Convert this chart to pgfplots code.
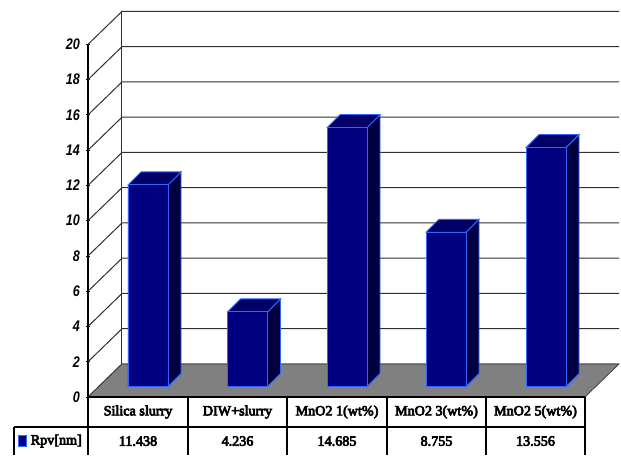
\documentclass[border=0pt]{standalone}
\usepackage{pgfplots}
\usepackage{fontspec}
\pgfplotsset{compat=1.18}
\setmainfont{Liberation Serif}
\newfontfamily\cellfont[FakeBold=5]{Liberation Serif}
\newfontfamily\tickfont[FakeStretch=0.82]{Liberation Sans}
\definecolor{barfront}{HTML}{000080}
\definecolor{barside}{HTML}{000040}
\definecolor{bartop}{HTML}{000066}
\definecolor{baredge}{HTML}{3366FF}
\definecolor{floorgray}{HTML}{808080}
\definecolor{wallline}{HTML}{303030}

\begin{document}
\begin{tikzpicture}
\useasboundingbox (-66pt,-43.5pt) rectangle (399.75pt,297.75pt);
% x runs in layout units (0.75pt each), y in Rpv[nm]
\begin{axis}[
  at={(0pt,0pt)}, anchor=south west,
  scale only axis, width=372.75pt, height=264.45pt,
  xmin=88, xmax=585, ymin=0, ymax=20,
  clip=false,
  axis x line=none,
  axis y line=left,
  y axis line style={-, black, line width=0.9pt},
  ytick={0,2,...,20},
  tick style={black, line width=0.7pt},
  major tick length=3.5pt,
  yticklabel style={font=\tickfont\bfseries\itshape\fontsize{11.5}{13}\selectfont, xshift=-0.8pt},
  /pgf/number format/assume math mode=true,
  barface/.style={draw=baredge, line width=0.7pt, yshift=7.8pt},
]
% back wall and its gridlines
\pgfplotsinvokeforeach{0,2,...,20}{
  \draw[wallline, line width=0.75pt] (axis cs:88,#1) -- ++(25.5pt,24.75pt) -- ++(372.75pt,0pt);
}
\draw[wallline, line width=0.75pt] (axis cs:122,1.872) -- (axis cs:122,21.872);

% floor
\addplot[fill=floorgray, draw=wallline, line width=0.5pt] coordinates
  {(88,0) (122,1.872) (619,1.872) (585,0)} -- cycle;

% side faces
\addplot[barface, fill=barside] coordinates {(168,0) (168,11.438) (181,12.175) (181,0.737)} -- cycle;
\addplot[barface, fill=barside] coordinates {(267.5,0) (267.5,4.236) (280.5,4.973) (280.5,0.737)} -- cycle;
\addplot[barface, fill=barside] coordinates {(367,0) (367,14.685) (380,15.422) (380,0.737)} -- cycle;
\addplot[barface, fill=barside] coordinates {(466,0) (466,8.755) (479,9.492) (479,0.737)} -- cycle;
\addplot[barface, fill=barside] coordinates {(566,0) (566,13.556) (579,14.293) (579,0.737)} -- cycle;
% top faces
\addplot[barface, fill=bartop] coordinates {(128,11.438) (168,11.438) (181,12.175) (141,12.175)} -- cycle;
\addplot[barface, fill=bartop] coordinates {(227.5,4.236) (267.5,4.236) (280.5,4.973) (240.5,4.973)} -- cycle;
\addplot[barface, fill=bartop] coordinates {(327,14.685) (367,14.685) (380,15.422) (340,15.422)} -- cycle;
\addplot[barface, fill=bartop] coordinates {(426,8.755) (466,8.755) (479,9.492) (439,9.492)} -- cycle;
\addplot[barface, fill=bartop] coordinates {(526,13.556) (566,13.556) (579,14.293) (539,14.293)} -- cycle;
% front faces
\addplot[ybar, bar width=30pt, barface, fill=barfront] coordinates
  {(148,11.438) (247.5,4.236) (347,14.685) (446,8.755) (546,13.556)};

% data table beneath the plot
\draw[black, line width=0.8pt] (axis cs:88,0) -- (axis cs:585,0);
\draw[black, line width=0.8pt] (axis cs:14,-1.702) -- (axis cs:585,-1.702);
\draw[black, line width=0.8pt] (axis cs:14,-1.702) -- (axis cs:14,-3.29);
\foreach \xx in {88,188,287,387,486,585}{
  \edef\tmp{\noexpand\draw[black, line width=0.8pt] (axis cs:\xx,0) -- (axis cs:\xx,-3.29);}\tmp
}
\tikzset{cell/.style={font=\cellfont\fontsize{10.6}{12}\selectfont, inner sep=0pt, anchor=center}}
\node[cell] at (axis cs:138,-0.85) {Silica slurry};
\node[cell] at (axis cs:237.5,-0.85) {DIW+slurry};
\node[cell] at (axis cs:337,-0.85) {MnO2 1(wt\%)};
\node[cell] at (axis cs:436.5,-0.85) {MnO2 3(wt\%)};
\node[cell] at (axis cs:535.5,-0.85) {MnO2 5(wt\%)};
\node[cell] at (axis cs:138,-2.5) {11.438};
\node[cell] at (axis cs:237.5,-2.5) {4.236};
\node[cell] at (axis cs:337,-2.5) {14.685};
\node[cell] at (axis cs:436.5,-2.5) {8.755};
\node[cell] at (axis cs:535.5,-2.5) {13.556};
\node[cell, anchor=west] at (axis cs:30.5,-2.5) {Rpv[nm]};
\fill[barfront, draw=baredge, line width=0.5pt] (axis cs:18,-2.15) rectangle (axis cs:26,-2.8);
\end{axis}
\end{tikzpicture}
\end{document}
